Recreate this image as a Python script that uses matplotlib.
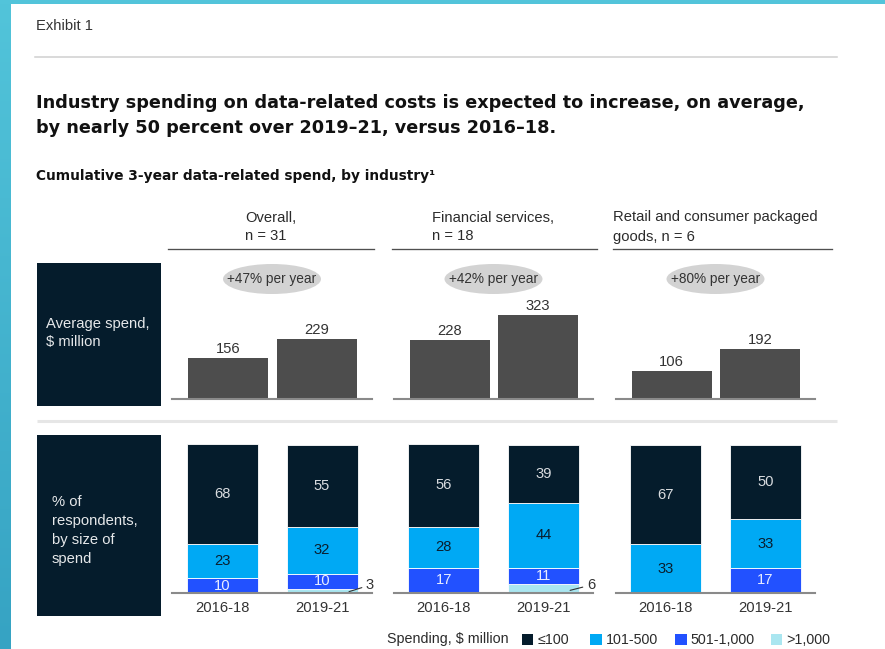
import numpy as np
import matplotlib
matplotlib.use("Agg")
import matplotlib.pyplot as plt
from matplotlib.patches import Rectangle, Ellipse

plt.rcParams["font.family"] = ["Liberation Sans", "DejaVu Sans"]

W, H = 885, 649

# ---- data ----
panel_title = ["Overall,", "Financial services,", "Retail and consumer packaged"]
panel_n = ["n = 31", "n = 18", "goods, n = 6"]
periods = ["2016-18", "2019-21"]
growth = ["+47% per year", "+42% per year", "+80% per year"]
avg_spend = [[156, 229], [228, 323], [106, 192]]          # $ million

# % of respondents by size of spend, [2016-18, 2019-21] per panel
bands = ["\u2264100", "101-500", "501-1,000", ">1,000"]
share_le100 = [[68, 55], [56, 39], [67, 50]]
share_101_500 = [[23, 32], [28, 44], [33, 33]]
share_501_1000 = [[10, 10], [17, 11], [0, 17]]
share_gt1000 = [[0, 3], [0, 6], [0, 0]]

NAVY, SKY, BLUE, PALE = "#051C2C", "#00A9F4", "#2251FF", "#AAE6F0"
band_colors = [NAVY, SKY, BLUE, PALE]
band_text = ["#D9DCE0", "#0A1E2E", "#E8EDFF", "#333333"]
GREY_BAR = "#4D4D4D"
TXT = "#2B2B2B"
FS = 10.6
HEAD_FONT = ["DejaVu Sans"]

fig = plt.figure(figsize=(W / 100, H / 100), dpi=100)
bg = fig.add_axes([0, 0, 1, 1])
bg.set_xlim(0, W); bg.set_ylim(H, 0); bg.axis("off")

def px_axes(x0, y0, x1, y1):
    return fig.add_axes([x0 / W, 1 - y1 / H, (x1 - x0) / W, (y1 - y0) / H])

# teal frame on the left and top
grad = np.linspace(0, 1, 200)[:, None, None]
c0, c1 = np.array([0x52, 0xC4, 0xDA]) / 255, np.array([0x36, 0xA3, 0xC3]) / 255
bg.imshow(c0 + (c1 - c0) * grad, extent=(0, 11, H, 0), aspect="auto", zorder=0)
bg.add_patch(Rectangle((0, 0), W, 4, color="#52C4DA", lw=0))
bg.set_xlim(0, W); bg.set_ylim(H, 0)

# header block
bg.text(35.5, 30.5, "Exhibit 1", fontsize=10.6, color="#333333", va="baseline")
bg.plot([35, 837], [57, 57], color="#CFCFCF", lw=1.1)
bg.text(35.5, 107.5, "Industry spending on data-related costs is expected to increase, on average,",
        fontsize=12.7, weight="bold", family=HEAD_FONT, color="#111111", va="baseline")
bg.text(35.5, 133, "by nearly 50 percent over 2019\u201321, versus 2016\u201318.",
        fontsize=12.7, weight="bold", family=HEAD_FONT, color="#111111", va="baseline")
bg.text(35.5, 180, "Cumulative 3-year data-related spend, by industry\u00b9",
        fontsize=9.9, weight="bold", family=HEAD_FONT, color="#111111", va="baseline")

# row label boxes
for (y0, y1), lines in [((263, 406), ["Average spend,", "$ million"]),
                        ((435, 616), ["% of", "respondents,", "by size of", "spend"])]:
    bg.add_patch(Rectangle((36.7, y0), 124.3, y1 - y0, color=NAVY, lw=0))
    first = 327.7 if len(lines) == 2 else 506
    step = 18 if len(lines) == 2 else 19
    xt = 46 if len(lines) == 2 else 51.7
    for k, ln in enumerate(lines):
        bg.text(xt, first + k * step, ln, fontsize=FS, color="#E6E8EA", va="baseline")

# separator between the two rows
bg.plot([37, 837], [420.5, 420.5], color="#E6E6E6", lw=2.2, solid_capstyle="butt")

head_line = [(168, 374), (392, 597), (613, 832)]
head_x = [245, 432, 613]
base_x = [(172, 372), (394, 593), (616, 815)]

for p in range(3):
    # panel header
    bg.text(head_x[p], 221.5, panel_title[p], fontsize=FS, color=TXT, va="baseline")
    bg.text(head_x[p], 240.5, panel_n[p], fontsize=FS, color=TXT, va="baseline")
    bg.plot(head_line[p], [248.5, 248.5], color="#4F4F4F", lw=0.95)

    x0, x1 = base_x[p]
    # growth pill
    cx = (x0 + x1) / 2
    bg.add_patch(Ellipse((cx, 279), 98, 30, color="#D3D3D3", lw=0))
    bg.text(cx, 279.5, growth[p], fontsize=9.8, color="#333333", ha="center", va="center")

    # average spend bars
    ax = px_axes(x0, 265, x1, 399)
    ax.bar([0, 1], avg_spend[p], width=0.9, color=GREY_BAR)
    for i, v in enumerate(avg_spend[p]):
        ax.annotate(str(v), (i, v), xytext=(0, 6.5), textcoords="offset points",
                    ha="center", va="center", fontsize=FS, color="#333333")
    ax.set_xlim(-0.63, 1.62); ax.set_ylim(0, 515)
    ax.set_xticks([]); ax.set_yticks([])
    ax.patch.set_alpha(0)
    for s in ("top", "right", "left"):
        ax.spines[s].set_visible(False)
    ax.spines["bottom"].set_color("#8A8A8A"); ax.spines["bottom"].set_linewidth(1.5)

    # stacked share bars, largest spend band at the bottom
    ax = px_axes(x0, 444, x1, 593)
    stack = [share_gt1000[p], share_501_1000[p], share_101_500[p], share_le100[p]]
    cols = band_colors[::-1]; tcols = band_text[::-1]
    bottom = np.zeros(2)
    for vals, c, tc in zip(stack, cols, tcols):
        vals = np.array(vals, dtype=float)
        ax.bar([0, 1], vals, width=0.71, bottom=bottom, color=c,
               edgecolor="white", linewidth=0.6, clip_on=False)
        for i, v in enumerate(vals):
            if v >= 8:
                ax.text(i, bottom[i] + v / 2, f"{v:.0f}", ha="center", va="center",
                        fontsize=FS, color=tc)
            elif v > 0:
                ax.annotate(f"{v:.0f}", xy=(i + 0.27, bottom[i] + v * 0.3),
                            xytext=(i + 0.48, 5.4), ha="center", va="center",
                            fontsize=FS, color="#333333",
                            arrowprops=dict(arrowstyle="-", color="#333333", lw=0.8,
                                            shrinkA=1, shrinkB=0))
        bottom += vals
    ax.set_xlim(-0.5, 1.5); ax.set_ylim(0, 101)
    ax.set_xticks([0, 1], periods)
    ax.set_yticks([])
    ax.tick_params(axis="x", length=0, pad=5.5, labelsize=FS, labelcolor="#333333")
    ax.patch.set_alpha(0)
    for s in ("top", "right", "left"):
        ax.spines[s].set_visible(False)
    ax.spines["bottom"].set_color("#8A8A8A"); ax.spines["bottom"].set_linewidth(1.5)
    ax.spines["bottom"].set_zorder(5)

# legend row
ly = 639.5
bg.text(387, ly, "Spending, $ million", fontsize=10.3, color=TXT, va="center")
for sx, tx, lab, c in zip([521.7, 590, 675, 770.7], [538, 606, 690, 786], bands, band_colors):
    bg.add_patch(Rectangle((sx, ly - 5.8), 11.5, 11.5, color=c, lw=0))
    bg.text(tx, ly, lab, fontsize=10.3, color=TXT, va="center")

fig.savefig("out.png", dpi=100)
